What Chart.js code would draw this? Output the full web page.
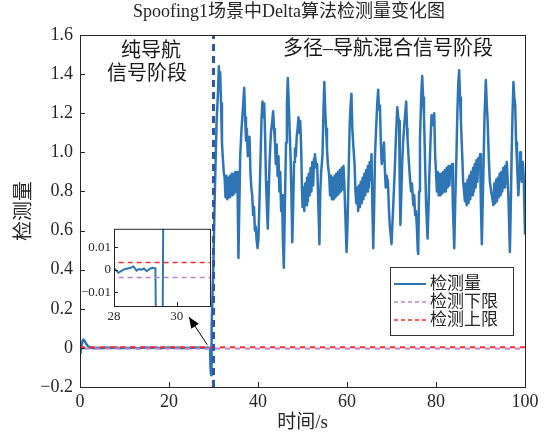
<!DOCTYPE html>
<html>
<head>
<meta charset="utf-8">
<script src="https://cdn.jsdelivr.net/npm/chart.js@4/dist/chart.umd.min.js"></script>
<style>
  html, body { margin: 0; padding: 0; background: #fff; }
  #wrap { position: relative; width: 546px; height: 437px; }
  #main { position: absolute; left: 0; top: 0; }
  #inset { position: absolute; left: 80px; top: 218px; }
</style>
</head>
<body>
<div id="wrap">
  <canvas id="main" width="546" height="437"></canvas>
  <canvas id="inset" width="135" height="112"></canvas>
</div>
<script>
// ---- Detection statistic, pure navigation signal stage (0–29.3 s) ----
const navTimes = [0.1, 0.4, 0.7, 1.0, 1.4, 1.8, 2.3, 3, 4, 5, 6, 7, 8, 9, 10, 11, 12, 13, 14, 15,
  16, 17, 18, 19, 20, 21, 22, 23, 24, 25, 26, 27, 28, 28.14, 28.3, 28.4, 28.51, 28.62, 28.72,
  28.8, 28.88, 28.96, 29.04, 29.15, 29.22, 29.32];
const navValues = [-0.03, 0.02, 0.042, 0.038, 0.02, 0.008, 0.002, -0.002, 0.001, -0.002, 0.002,
  -0.001, 0.002, -0.002, 0.001, -0.001, 0.002, -0.002, 0.001, 0.002, -0.001, 0.002, -0.002,
  0.001, 0.002, -0.001, 0.002, -0.002, 0.001, -0.001, 0.002, 0.001, 0.0007, -0.0014, 0.0,
  0.0004, 0.0007, 0.0014, -0.0004, 0.0003, 0.0, 0.0005, -0.0007, 0.0004, 0.0008, 0.0006];

// ---- Detection statistic, multipath + navigation mixed stage (29.4–100 s) ----
const mixTimes = [
  29.40, 29.47, 29.54, 29.60, 30.0, 30.3, 30.5, 30.7, 31.0, 31.2, 31.35, 31.5, 31.7, 31.9, 32.1, 32.3, 32.5,
  32.7, 32.9, 33.1, 33.3, 33.5, 33.7, 33.9, 34.1, 34.3, 34.5, 34.7, 34.9, 35.1, 35.3,
  35.45, 35.6, 35.8, 36.0, 36.3, 36.6, 36.9, 37.1, 37.3, 37.5, 37.7, 37.9, 38.1, 38.3, 38.5, 38.7,
  38.9, 39.1, 39.3, 39.5, 39.7, 39.9, 40.1, 40.3, 40.6, 40.8, 41.0, 41.2, 41.4, 41.6, 41.8, 42.0,
  42.2, 42.4, 42.6, 42.9, 43.2, 43.4, 43.6,
  43.8, 44.0, 44.2, 44.4, 44.6, 44.8, 45.0, 45.2, 45.4,
  45.6, 45.8, 46.0, 46.3, 46.5, 46.7, 46.9, 47.1, 47.3, 47.5, 47.7, 47.9, 48.1, 48.3, 48.5, 48.7,
  48.9, 49.1, 49.3, 49.5, 49.7, 49.9, 50.0,
  50.2, 50.4, 50.6, 50.8, 51.0, 51.2, 51.4, 51.6, 51.8, 52.0, 52.2, 52.4, 52.6,
  52.8, 53.1, 53.3, 53.6, 53.8, 54.0, 54.2, 54.5, 54.7, 54.9, 55.1, 55.3, 55.5, 55.7, 56.0,
  56.2, 56.4, 56.6, 56.8, 57.0, 57.2, 57.4, 57.6, 57.8, 58.0, 58.2, 58.4, 58.6, 58.8, 59.0, 59.2, 59.4,
  59.6, 59.9, 60.1, 60.3, 60.6, 60.8, 61.0, 61.2, 61.4, 61.7, 61.9, 62.1,
  62.3, 62.5, 62.7, 62.9, 63.1, 63.3, 63.5, 63.7, 63.9, 64.1, 64.3, 64.5, 64.7, 64.9, 65.1, 65.3, 65.5,
  65.7, 65.9, 66.1, 66.3, 66.6, 66.8, 67.0, 67.2, 67.4, 67.6, 67.8, 68.0, 68.3, 68.5, 68.7, 68.9,
  69.2, 69.4, 69.6, 69.8, 70.0, 70.3, 70.7, 71.0, 71.3, 71.5, 71.7, 71.85, 72.0, 72.2, 72.4, 72.6,
  72.9, 73.1, 73.3, 73.5, 73.6, 73.9, 74.2, 74.4, 74.6, 74.9, 75.1, 75.3, 75.5, 75.7, 75.9, 76.0,
  76.2, 76.4, 76.7, 76.9, 77.1, 77.3, 77.6, 77.8, 78.1, 78.3, 78.5, 78.8, 79.0, 79.2, 79.4, 79.6,
  79.8, 80.0,
  80.2, 80.4, 80.6, 80.8, 81.0, 81.2, 81.4, 81.6, 81.8, 82.0, 82.2, 82.4, 82.6, 82.8, 83.0, 83.2,
  83.4, 83.6, 83.8, 84.1, 84.3, 84.6, 84.8, 85.0, 85.2, 85.4, 85.6, 85.9, 86.1, 86.3, 86.5,
  86.7, 86.9, 87.1, 87.3, 87.5, 87.7, 87.9, 88.1, 88.3, 88.5, 88.7, 88.9, 89.1, 89.3, 89.5,
  89.7, 89.9, 90.1, 90.3, 90.5, 90.7, 90.9, 91.2, 91.4, 91.6, 91.9, 92.1, 92.4, 92.7, 92.9,
  93.1, 93.3, 93.5, 93.7, 93.9, 94.1, 94.3, 94.5, 94.7, 94.9, 95.1, 95.3, 95.5, 95.7, 95.9, 96.1,
  96.3, 96.6, 96.8, 97.0, 97.2, 97.4, 97.6, 97.8, 98.0, 98.2, 98.5, 98.7, 98.9, 99.1, 99.3, 99.5,
  99.7, 100.0];
const mixValues = [
  -0.12, -0.14, -0.05, 0.10, 0.45, 0.80, 0.98, 1.16, 1.30, 1.44, 1.38, 1.41, 1.25, 1.05, 0.97, 0.90, 0.87,
  0.77, 0.88, 0.76, 0.87, 0.77, 0.88, 0.78, 0.89, 0.78, 0.89, 0.79, 0.90, 0.80, 0.90,
  0.75, 0.46, 0.72, 0.98, 1.12, 1.22, 1.33, 1.18, 1.06, 1.12, 0.98, 1.06, 1.08, 0.90, 0.82, 0.78,
  0.68, 0.72, 0.60, 0.62, 0.55, 0.51, 0.56, 0.72, 1.00, 1.18, 1.26, 1.18, 1.25, 1.08, 0.85, 0.72,
  0.61, 0.78, 0.95, 1.10, 1.16, 1.21, 1.12,
  1.06, 0.94, 1.04, 0.88, 0.98, 0.80, 0.90, 0.70, 0.78,
  0.55, 0.41, 0.68, 1.05, 1.25, 1.38, 1.26, 1.12, 0.99, 0.80, 0.54, 0.72, 0.95, 1.02, 0.98, 1.08,
  1.12, 1.18, 1.10, 1.16, 1.02, 0.80, 0.72,
  0.82, 0.70, 0.84, 0.73, 0.87, 0.75, 0.89, 0.78, 0.92, 0.80, 0.95, 0.83, 0.97,
  0.99, 0.92, 0.94, 0.70, 0.53, 0.80, 0.90, 0.99, 1.20, 1.36, 1.22, 1.12, 1.02, 0.94, 0.88,
  0.78, 0.88, 0.76, 0.87, 0.76, 0.88, 0.77, 0.89, 0.78, 0.90, 0.79, 0.91, 0.80, 0.92, 0.81, 0.93, 0.84,
  0.70, 0.49, 0.62, 0.82, 1.14, 1.24, 1.30, 1.12, 1.04, 0.94, 0.80, 0.74,
  0.82, 0.70, 0.83, 0.72, 0.85, 0.74, 0.87, 0.76, 0.89, 0.78, 0.91, 0.80, 0.93, 0.82, 0.95, 0.86, 0.99,
  0.72, 0.51, 0.72, 0.99, 1.15, 1.25, 1.32, 1.22, 1.24, 1.05, 0.94, 0.98, 1.05, 0.92, 0.82, 0.88,
  0.85, 0.72, 0.63, 0.58, 0.53, 0.68, 0.89, 1.08, 1.23, 1.18, 1.16, 0.85, 0.63, 0.78, 0.95, 1.05,
  1.15, 1.20, 1.26, 1.12, 1.07, 0.95, 0.85, 0.80, 0.84, 0.73, 0.78, 0.68, 0.70, 0.62, 0.50, 0.48,
  0.80, 1.07, 1.30, 1.39, 1.28, 1.19, 0.90, 0.72, 0.56, 0.70, 0.88, 1.08, 1.19, 1.14, 1.17, 1.20,
  0.99, 0.90,
  0.80, 0.90, 0.78, 0.89, 0.78, 0.89, 0.79, 0.90, 0.80, 0.91, 0.80, 0.92, 0.82, 0.93, 0.83, 0.93,
  0.90, 0.94, 0.72, 0.51, 0.72, 0.99, 1.20, 1.35, 1.42, 1.28, 1.16, 0.98, 0.85, 0.80, 0.75,
  0.84, 0.73, 0.86, 0.74, 0.88, 0.76, 0.90, 0.78, 0.92, 0.80, 0.94, 0.82, 0.96, 0.85, 0.97,
  0.92, 0.99, 0.72, 0.53, 0.75, 0.95, 1.18, 1.37, 1.25, 1.16, 0.95, 0.85, 0.80, 0.76, 0.73,
  0.84, 0.74, 0.86, 0.75, 0.87, 0.77, 0.89, 0.78, 0.90, 0.80, 0.92, 0.82, 0.93, 0.84, 0.95, 0.86,
  0.75, 0.49, 0.72, 0.99, 1.20, 1.36, 1.28, 1.24, 1.05, 0.95, 0.78, 0.86, 1.00, 0.92, 0.85, 0.95,
  0.88, 0.58];

// ---- Detection thresholds and stage boundary ----
const upperLimit = 0.0032;
const lowerLimit = -0.0035;
const stageSwitchTime = 30;

// ---- Axis ticks ----
const xTicksMain = [0, 20, 40, 60, 80, 100];
const yTicksMain = [-0.2, 0, 0.2, 0.4, 0.6, 0.8, 1.0, 1.2, 1.4, 1.6];
const xTicksInset = [28, 30];
const yTicksInset = [-0.01, 0, 0.01];

// ---- Text ----
const titleText = 'Spoofing1场景中Delta算法检测量变化图';
const xLabel = '时间/s';
const yLabel = '检测量';
const stageLabels = [['纯导航', '信号阶段'], ['多径–导航混合信号阶段']];
const seriesNames = ['检测量', '检测下限', '检测上限'];

const BLUE = '#2e75b6';
const PURPLE = '#b982d0';
const RED = '#ff2b2b';
const AXIS = '#262626';
const NUM_FONT = '"Liberation Serif", "Noto Sans CJK SC", serif';
const CJK_FONT = '"Liberation Serif", "Noto Sans CJK SC", sans-serif';

const signal = navTimes.map((t, i) => ({ x: t, y: navValues[i] }))
  .concat(mixTimes.map((t, i) => ({ x: t, y: mixValues[i] })));

function fmt(decimals) {
  return v => (Math.abs(v) < 1e-9 ? '0' : v.toFixed(decimals).replace('-', '−'));
}

function fixedTicks(list) {
  return function (scale) { scale.ticks = list.map(v => ({ value: v })); };
}

// box + inward tick marks on the left and bottom axes
function frameAndTicks(chart, len, lw) {
  const { ctx, chartArea: a, scales } = chart;
  ctx.save();
  ctx.strokeStyle = AXIS;
  ctx.lineWidth = lw;
  ctx.strokeRect(a.left + 0.5, a.top + 0.5, a.right - a.left, a.bottom - a.top);
  ctx.beginPath();
  scales.x.ticks.forEach(t => {
    const px = Math.round(scales.x.getPixelForValue(t.value)) + 0.5;
    ctx.moveTo(px, a.bottom); ctx.lineTo(px, a.bottom - len);
  });
  scales.y.ticks.forEach(t => {
    const py = Math.round(scales.y.getPixelForValue(t.value)) + 0.5;
    ctx.moveTo(a.left, py); ctx.lineTo(a.left + len, py);
  });
  ctx.stroke();
  ctx.restore();
}

const mainDecor = {
  id: 'mainDecor',
  afterDraw(chart) {
    const { ctx, chartArea: a, scales } = chart;
    frameAndTicks(chart, 5, 1);
    ctx.save();
    ctx.fillStyle = AXIS;
    ctx.textAlign = 'center';
    ctx.textBaseline = 'middle';
    // title
    ctx.font = '18px ' + CJK_FONT;
    ctx.fillText(titleText, 289, 12);
    // axis titles
    ctx.font = '19px ' + CJK_FONT;
    ctx.fillText(xLabel, (a.left + a.right) / 2, 423);
    ctx.save();
    ctx.translate(25, (a.top + a.bottom) / 2);
    ctx.rotate(-Math.PI / 2);
    ctx.font = '20px ' + CJK_FONT;
    ctx.fillText(yLabel, 0, 0);
    ctx.restore();
    // stage labels
    ctx.font = '20px ' + CJK_FONT;
    ctx.fillStyle = '#1a1a1a';
    ctx.fillText(stageLabels[0][0], 151, 52);
    ctx.fillText(stageLabels[0][1], 147, 75);
    ctx.fillText(stageLabels[1][0], 388, 50);
    // arrow from the switching dip towards the zoomed view
    const tx = scales.x.getPixelForValue(28.6), ty = scales.y.getPixelForValue(0.016);
    const hx = 189, hy = 317;
    ctx.strokeStyle = '#000';
    ctx.fillStyle = '#000';
    ctx.lineWidth = 1;
    ctx.beginPath(); ctx.moveTo(tx, ty); ctx.lineTo(hx, hy); ctx.stroke();
    const ang = Math.atan2(hy - ty, hx - tx);
    ctx.beginPath();
    ctx.moveTo(hx, hy);
    ctx.lineTo(hx - 11 * Math.cos(ang) + 4.5 * Math.sin(ang), hy - 11 * Math.sin(ang) - 4.5 * Math.cos(ang));
    ctx.lineTo(hx - 11 * Math.cos(ang) - 4.5 * Math.sin(ang), hy - 11 * Math.sin(ang) + 4.5 * Math.cos(ang));
    ctx.closePath(); ctx.fill();
    // legend
    const lx = 390, ly = 267, lw = 123, lh = 68;
    ctx.fillStyle = '#fff';
    ctx.fillRect(lx, ly, lw, lh);
    ctx.strokeStyle = '#333';
    ctx.strokeRect(lx + 0.5, ly + 0.5, lw, lh);
    const rows = [
      { name: seriesNames[0], color: BLUE, dash: [], w: 2 },
      { name: seriesNames[1], color: PURPLE, dash: [4, 3], w: 1.5 },
      { name: seriesNames[2], color: RED, dash: [4, 3], w: 1.5 }
    ];
    ctx.font = '17px ' + CJK_FONT;
    ctx.textAlign = 'left';
    rows.forEach((r, i) => {
      const y = ly + 17 + i * 18;
      ctx.strokeStyle = r.color;
      ctx.lineWidth = r.w;
      ctx.setLineDash(r.dash);
      ctx.beginPath(); ctx.moveTo(lx + 4, y); ctx.lineTo(lx + 36, y); ctx.stroke();
      ctx.setLineDash([]);
      ctx.fillStyle = AXIS;
      ctx.fillText(r.name, lx + 40, y + 1);
    });
    ctx.restore();
  }
};

new Chart(document.getElementById('main'), {
  type: 'line',
  data: {
    datasets: [
      { label: 'switch', data: [{ x: stageSwitchTime, y: -0.2 }, { x: stageSwitchTime, y: 1.6 }],
        borderColor: '#3056ab', borderWidth: 3, borderDash: [7, 5], order: 0 },
      { label: seriesNames[2], data: [{ x: 0, y: upperLimit }, { x: 100, y: upperLimit }],
        borderColor: RED, borderWidth: 2, borderDash: [5, 5], order: 1 },
      { label: seriesNames[1], data: [{ x: 0, y: lowerLimit }, { x: 100, y: lowerLimit }],
        borderColor: PURPLE, borderWidth: 2, borderDash: [5, 5], borderDashOffset: 5, order: 2 },
      { label: seriesNames[0], data: signal, borderColor: BLUE, borderWidth: 2.5,
        borderJoinStyle: 'round', order: 3 }
    ]
  },
  options: {
    responsive: false,
    animation: false,
    devicePixelRatio: 1,
    layout: { padding: { top: 35, right: 21, left: 0, bottom: 0 } },
    elements: { point: { radius: 0 }, line: { tension: 0 } },
    plugins: { legend: { display: false }, tooltip: { enabled: false } },
    scales: {
      x: {
        type: 'linear', min: 0, max: 100,
        afterBuildTicks: fixedTicks(xTicksMain),
        afterFit(s) { s.height = 50; },
        grid: { display: false, drawTicks: false }, border: { display: false },
        ticks: { color: AXIS, font: { family: NUM_FONT, size: 18 }, padding: 4,
          maxRotation: 0, autoSkip: false, callback: fmt(0) }
      },
      y: {
        type: 'linear', min: -0.2, max: 1.6,
        afterBuildTicks: fixedTicks(yTicksMain),
        afterFit(s) { s.width = 80; },
        grid: { display: false, drawTicks: false }, border: { display: false },
        ticks: { color: AXIS, font: { family: NUM_FONT, size: 18 }, padding: 7,
          autoSkip: false, callback: fmt(1) }
      }
    }
  },
  plugins: [mainDecor]
});

// ---- zoomed view of the stage switch ----
const insetDecor = {
  id: 'insetDecor',
  beforeDatasetsDraw(chart) {
    const { ctx, chartArea: a } = chart;
    ctx.save();
    ctx.fillStyle = '#fff';
    ctx.fillRect(a.left, a.top, a.right - a.left, a.bottom - a.top);
    ctx.restore();
  },
  afterDraw(chart) { frameAndTicks(chart, 4, 1); }
};

new Chart(document.getElementById('inset'), {
  type: 'line',
  data: {
    datasets: [
      { data: [{ x: 27, y: upperLimit }, { x: 32, y: upperLimit }], borderColor: RED,
        borderWidth: 1.5, borderDash: [5, 4], clip: 0, order: 0 },
      { data: [{ x: 27, y: lowerLimit }, { x: 32, y: lowerLimit }], borderColor: PURPLE,
        borderWidth: 1.5, borderDash: [5, 4], clip: 0, order: 1 },
      { data: signal, borderColor: BLUE, borderWidth: 2, clip: 0, order: 2 }
    ]
  },
  options: {
    responsive: false,
    animation: false,
    devicePixelRatio: 1,
    layout: { padding: { top: 8, right: 5, left: 0, bottom: 0 } },
    elements: { point: { radius: 0 }, line: { tension: 0 } },
    plugins: { legend: { display: false }, tooltip: { enabled: false } },
    scales: {
      x: {
        type: 'linear', min: 28, max: 31.06,
        afterBuildTicks: fixedTicks(xTicksInset),
        afterFit(s) { s.height = 24; },
        grid: { display: false, drawTicks: false }, border: { display: false },
        ticks: { color: AXIS, font: { family: NUM_FONT, size: 13 }, padding: 3,
          maxRotation: 0, autoSkip: false, callback: fmt(0) }
      },
      y: {
        type: 'linear', min: -0.0161, max: 0.0181,
        afterBuildTicks: fixedTicks(yTicksInset),
        afterFit(s) { s.width = 34; },
        grid: { display: false, drawTicks: false }, border: { display: false },
        ticks: { color: AXIS, font: { family: NUM_FONT, size: 13 }, padding: 3,
          autoSkip: false, callback: fmt(2) }
      }
    }
  },
  plugins: [insetDecor]
});
</script>
</body>
</html>
